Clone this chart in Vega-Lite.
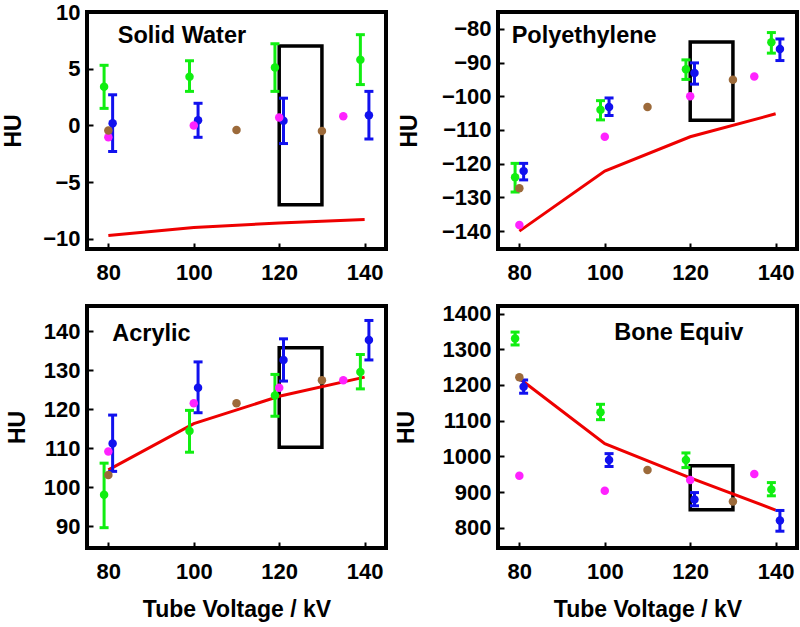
{
  "$schema": "https://vega.github.io/schema/vega-lite/v6.json",
  "background": "white",
  "autosize": {"type": "none"},
  "padding": {"left": 87, "top": 12, "right": 713, "bottom": 615},
  "datasets": {
    "pts": [
      {"panel": "sw", "series": "A", "kv": 79, "hu": 3.4, "lo": 1.5, "hi": 5.3},
      {"panel": "sw", "series": "A", "kv": 99, "hu": 4.3, "lo": 3.0, "hi": 5.7},
      {"panel": "sw", "series": "A", "kv": 119, "hu": 5.1, "lo": 3.0, "hi": 7.2},
      {"panel": "sw", "series": "A", "kv": 139, "hu": 5.8, "lo": 3.6, "hi": 8.0},
      {"panel": "sw", "series": "B", "kv": 81, "hu": 0.2, "lo": -2.3, "hi": 2.7},
      {"panel": "sw", "series": "B", "kv": 101, "hu": 0.45, "lo": -1.05, "hi": 1.95},
      {"panel": "sw", "series": "B", "kv": 121, "hu": 0.4, "lo": -1.6, "hi": 2.4},
      {"panel": "sw", "series": "B", "kv": 141, "hu": 0.9, "lo": -1.2, "hi": 3.0},
      {"panel": "sw", "series": "C", "kv": 80, "hu": -1.05},
      {"panel": "sw", "series": "C", "kv": 100, "hu": 0.0},
      {"panel": "sw", "series": "C", "kv": 120, "hu": 0.7},
      {"panel": "sw", "series": "C", "kv": 135, "hu": 0.8},
      {"panel": "sw", "series": "D", "kv": 80, "hu": -0.45},
      {"panel": "sw", "series": "D", "kv": 110, "hu": -0.4},
      {"panel": "sw", "series": "D", "kv": 130, "hu": -0.5},

      {"panel": "pe", "series": "A", "kv": 79, "hu": -124, "lo": -128.4, "hi": -119.9},
      {"panel": "pe", "series": "A", "kv": 99, "hu": -104, "lo": -107, "hi": -101.3},
      {"panel": "pe", "series": "A", "kv": 119, "hu": -92, "lo": -95, "hi": -89.2},
      {"panel": "pe", "series": "A", "kv": 139, "hu": -84, "lo": -87.2, "hi": -81.1},
      {"panel": "pe", "series": "B", "kv": 81, "hu": -122.2, "lo": -124.8, "hi": -119.9},
      {"panel": "pe", "series": "B", "kv": 101, "hu": -103.2, "lo": -105.7, "hi": -100.5},
      {"panel": "pe", "series": "B", "kv": 121, "hu": -93.1, "lo": -96.4, "hi": -90.1},
      {"panel": "pe", "series": "B", "kv": 141, "hu": -86, "lo": -89.4, "hi": -83},
      {"panel": "pe", "series": "C", "kv": 80, "hu": -138.2},
      {"panel": "pe", "series": "C", "kv": 100, "hu": -112},
      {"panel": "pe", "series": "C", "kv": 120, "hu": -100},
      {"panel": "pe", "series": "C", "kv": 135, "hu": -94.1},
      {"panel": "pe", "series": "D", "kv": 80, "hu": -127.3},
      {"panel": "pe", "series": "D", "kv": 110, "hu": -103.2},
      {"panel": "pe", "series": "D", "kv": 130, "hu": -95.1},

      {"panel": "ac", "series": "A", "kv": 79, "hu": 98.1, "lo": 89.7, "hi": 106.2},
      {"panel": "ac", "series": "A", "kv": 99, "hu": 114.4, "lo": 109, "hi": 119.7},
      {"panel": "ac", "series": "A", "kv": 119, "hu": 123.5, "lo": 118.2, "hi": 128.9},
      {"panel": "ac", "series": "A", "kv": 139, "hu": 129.5, "lo": 125.2, "hi": 134},
      {"panel": "ac", "series": "B", "kv": 81, "hu": 111.2, "lo": 104.1, "hi": 118.5},
      {"panel": "ac", "series": "B", "kv": 101, "hu": 125.5, "lo": 119.1, "hi": 132.1},
      {"panel": "ac", "series": "B", "kv": 121, "hu": 132.6, "lo": 127.2, "hi": 138},
      {"panel": "ac", "series": "B", "kv": 141, "hu": 137.7, "lo": 132.6, "hi": 142.7},
      {"panel": "ac", "series": "C", "kv": 80, "hu": 109.2},
      {"panel": "ac", "series": "C", "kv": 100, "hu": 121.5},
      {"panel": "ac", "series": "C", "kv": 120, "hu": 125.5},
      {"panel": "ac", "series": "C", "kv": 135, "hu": 127.4},
      {"panel": "ac", "series": "D", "kv": 80, "hu": 103.2},
      {"panel": "ac", "series": "D", "kv": 110, "hu": 121.5},
      {"panel": "ac", "series": "D", "kv": 130, "hu": 127.4},

      {"panel": "be", "series": "A", "kv": 79, "hu": 1330, "lo": 1312, "hi": 1348},
      {"panel": "be", "series": "A", "kv": 99, "hu": 1124, "lo": 1103, "hi": 1146},
      {"panel": "be", "series": "A", "kv": 119, "hu": 990, "lo": 969, "hi": 1010},
      {"panel": "be", "series": "A", "kv": 139, "hu": 908, "lo": 890, "hi": 927},
      {"panel": "be", "series": "B", "kv": 81, "hu": 1195, "lo": 1177, "hi": 1214},
      {"panel": "be", "series": "B", "kv": 101, "hu": 990, "lo": 972, "hi": 1008},
      {"panel": "be", "series": "B", "kv": 121, "hu": 880, "lo": 862, "hi": 899},
      {"panel": "be", "series": "B", "kv": 141, "hu": 821, "lo": 791, "hi": 849},
      {"panel": "be", "series": "C", "kv": 80, "hu": 946},
      {"panel": "be", "series": "C", "kv": 100, "hu": 904},
      {"panel": "be", "series": "C", "kv": 120, "hu": 934},
      {"panel": "be", "series": "C", "kv": 135, "hu": 951},
      {"panel": "be", "series": "D", "kv": 80, "hu": 1222},
      {"panel": "be", "series": "D", "kv": 110, "hu": 962},
      {"panel": "be", "series": "D", "kv": 130, "hu": 874}
    ],
    "model": [
      {"panel": "sw", "kv": 80, "hu": -9.7},
      {"panel": "sw", "kv": 100, "hu": -9.0},
      {"panel": "sw", "kv": 120, "hu": -8.6},
      {"panel": "sw", "kv": 140, "hu": -8.3},
      {"panel": "pe", "kv": 80, "hu": -140},
      {"panel": "pe", "kv": 100, "hu": -122.2},
      {"panel": "pe", "kv": 120, "hu": -112},
      {"panel": "pe", "kv": 140, "hu": -105.2},
      {"panel": "ac", "kv": 80, "hu": 104.5},
      {"panel": "ac", "kv": 100, "hu": 116.3},
      {"panel": "ac", "kv": 120, "hu": 123.3},
      {"panel": "ac", "kv": 140, "hu": 128.2},
      {"panel": "be", "kv": 80, "hu": 1218},
      {"panel": "be", "kv": 100, "hu": 1036},
      {"panel": "be", "kv": 120, "hu": 940},
      {"panel": "be", "kv": 140, "hu": 850}
    ],
    "box": [
      {"panel": "sw", "x1": 120, "x2": 130, "y1": -7, "y2": 7},
      {"panel": "pe", "x1": 120, "x2": 130, "y1": -107.1, "y2": -83.9},
      {"panel": "ac", "x1": 120, "x2": 130, "y1": 110.3, "y2": 135.7},
      {"panel": "be", "x1": 120, "x2": 130, "y1": 851, "y2": 974}
    ],
    "labels": [
      {"panel": "sw", "name": "Solid Water", "kv": 82.2, "hu": 7.3},
      {"panel": "pe", "name": "Polyethylene", "kv": 78.2, "hu": -84.1},
      {"panel": "ac", "name": "Acrylic", "kv": 80.9, "hu": 137.4},
      {"panel": "be", "name": "Bone Equiv", "kv": 102.2, "hu": 1326.6}
    ]
  },
  "columns": 2,
  "spacing": {"row": 57, "column": 112},
  "bounds": "flush",
  "concat": [
    {
      "width": 299, "height": 237,
      "layer": [
        {"data": {"name": "box"}, "transform": [{"filter": "datum.panel == 'sw'"}],
         "mark": {"type": "rect", "fillOpacity": 0, "stroke": "black", "strokeWidth": 3.5},
         "encoding": {"x": {"field": "x1", "type": "quantitative", "scale": {"domain": [75, 145], "nice": false, "zero": false}, "axis": {"values": [80, 100, 120, 140], "title": null}}, "x2": {"field": "x2"},
                      "y": {"field": "y1", "type": "quantitative", "scale": {"domain": [-10.9, 10], "nice": false, "zero": false}, "axis": {"values": [-10, -5, 0, 5, 10], "title": "HU", "titlePadding": 17, "labelOverlap": false, "tickCount": 12}}, "y2": {"field": "y2"}}},
        {"data": {"name": "model"}, "transform": [{"filter": "datum.panel == 'sw'"}],
         "mark": {"type": "line", "color": "#ee0000", "strokeWidth": 3},
         "encoding": {"x": {"field": "kv", "type": "quantitative"}, "y": {"field": "hu", "type": "quantitative"}}},
        {"data": {"name": "pts"}, "transform": [{"filter": "datum.panel == 'sw' && isValid(datum.lo)"}],
         "mark": {"type": "rule", "strokeWidth": 3},
         "encoding": {"x": {"field": "kv", "type": "quantitative"}, "y": {"field": "lo", "type": "quantitative"}, "y2": {"field": "hi"}, "color": {"field": "series", "type": "nominal", "legend": null}}},
        {"data": {"name": "pts"}, "transform": [{"filter": "datum.panel == 'sw' && isValid(datum.lo)"}],
         "mark": {"type": "tick", "orient": "horizontal", "size": 9, "thickness": 3, "opacity": 1},
         "encoding": {"x": {"field": "kv", "type": "quantitative"}, "y": {"field": "lo", "type": "quantitative"}, "color": {"field": "series", "type": "nominal", "legend": null}}},
        {"data": {"name": "pts"}, "transform": [{"filter": "datum.panel == 'sw' && isValid(datum.lo)"}],
         "mark": {"type": "tick", "orient": "horizontal", "size": 9, "thickness": 3, "opacity": 1},
         "encoding": {"x": {"field": "kv", "type": "quantitative"}, "y": {"field": "hi", "type": "quantitative"}, "color": {"field": "series", "type": "nominal", "legend": null}}},
        {"data": {"name": "pts"}, "transform": [{"filter": "datum.panel == 'sw'"}],
         "mark": {"type": "circle", "size": 72, "opacity": 1},
         "encoding": {"x": {"field": "kv", "type": "quantitative"}, "y": {"field": "hu", "type": "quantitative"}, "color": {"field": "series", "type": "nominal", "legend": null}}},
        {"data": {"name": "labels"}, "transform": [{"filter": "datum.panel == 'sw'"}],
         "mark": {"type": "text", "align": "left", "baseline": "alphabetic", "fontSize": 23.5, "fontWeight": "bold", "color": "black"},
         "encoding": {"x": {"field": "kv", "type": "quantitative"}, "y": {"field": "hu", "type": "quantitative"}, "text": {"field": "name"}}}
      ]
    },
    {
      "width": 299, "height": 237,
      "layer": [
        {"data": {"name": "box"}, "transform": [{"filter": "datum.panel == 'pe'"}],
         "mark": {"type": "rect", "fillOpacity": 0, "stroke": "black", "strokeWidth": 3.5},
         "encoding": {"x": {"field": "x1", "type": "quantitative", "scale": {"domain": [75, 145], "nice": false, "zero": false}, "axis": {"values": [80, 100, 120, 140], "title": null}}, "x2": {"field": "x2"},
                      "y": {"field": "y1", "type": "quantitative", "scale": {"domain": [-145.3, -75], "nice": false, "zero": false}, "axis": {"values": [-140, -130, -120, -110, -100, -90, -80], "title": "HU", "titlePadding": 20, "labelOverlap": false, "tickCount": 12}}, "y2": {"field": "y2"}}},
        {"data": {"name": "model"}, "transform": [{"filter": "datum.panel == 'pe'"}],
         "mark": {"type": "line", "color": "#ee0000", "strokeWidth": 3},
         "encoding": {"x": {"field": "kv", "type": "quantitative"}, "y": {"field": "hu", "type": "quantitative"}}},
        {"data": {"name": "pts"}, "transform": [{"filter": "datum.panel == 'pe' && isValid(datum.lo)"}],
         "mark": {"type": "rule", "strokeWidth": 3},
         "encoding": {"x": {"field": "kv", "type": "quantitative"}, "y": {"field": "lo", "type": "quantitative"}, "y2": {"field": "hi"}, "color": {"field": "series", "type": "nominal", "legend": null}}},
        {"data": {"name": "pts"}, "transform": [{"filter": "datum.panel == 'pe' && isValid(datum.lo)"}],
         "mark": {"type": "tick", "orient": "horizontal", "size": 9, "thickness": 3, "opacity": 1},
         "encoding": {"x": {"field": "kv", "type": "quantitative"}, "y": {"field": "lo", "type": "quantitative"}, "color": {"field": "series", "type": "nominal", "legend": null}}},
        {"data": {"name": "pts"}, "transform": [{"filter": "datum.panel == 'pe' && isValid(datum.lo)"}],
         "mark": {"type": "tick", "orient": "horizontal", "size": 9, "thickness": 3, "opacity": 1},
         "encoding": {"x": {"field": "kv", "type": "quantitative"}, "y": {"field": "hi", "type": "quantitative"}, "color": {"field": "series", "type": "nominal", "legend": null}}},
        {"data": {"name": "pts"}, "transform": [{"filter": "datum.panel == 'pe'"}],
         "mark": {"type": "circle", "size": 72, "opacity": 1},
         "encoding": {"x": {"field": "kv", "type": "quantitative"}, "y": {"field": "hu", "type": "quantitative"}, "color": {"field": "series", "type": "nominal", "legend": null}}},
        {"data": {"name": "labels"}, "transform": [{"filter": "datum.panel == 'pe'"}],
         "mark": {"type": "text", "align": "left", "baseline": "alphabetic", "fontSize": 23.5, "fontWeight": "bold", "color": "black"},
         "encoding": {"x": {"field": "kv", "type": "quantitative"}, "y": {"field": "hu", "type": "quantitative"}, "text": {"field": "name"}}}
      ]
    },
    {
      "width": 299, "height": 242,
      "layer": [
        {"data": {"name": "box"}, "transform": [{"filter": "datum.panel == 'ac'"}],
         "mark": {"type": "rect", "fillOpacity": 0, "stroke": "black", "strokeWidth": 3.5},
         "encoding": {"x": {"field": "x1", "type": "quantitative", "scale": {"domain": [75, 145], "nice": false, "zero": false}, "axis": {"values": [80, 100, 120, 140], "title": "Tube Voltage / kV"}}, "x2": {"field": "x2"},
                      "y": {"field": "y1", "type": "quantitative", "scale": {"domain": [84.5, 146.4], "nice": false, "zero": false}, "axis": {"values": [90, 100, 110, 120, 130, 140], "title": "HU", "titlePadding": 14, "labelOverlap": false, "tickCount": 12}}, "y2": {"field": "y2"}}},
        {"data": {"name": "model"}, "transform": [{"filter": "datum.panel == 'ac'"}],
         "mark": {"type": "line", "color": "#ee0000", "strokeWidth": 3},
         "encoding": {"x": {"field": "kv", "type": "quantitative"}, "y": {"field": "hu", "type": "quantitative"}}},
        {"data": {"name": "pts"}, "transform": [{"filter": "datum.panel == 'ac' && isValid(datum.lo)"}],
         "mark": {"type": "rule", "strokeWidth": 3},
         "encoding": {"x": {"field": "kv", "type": "quantitative"}, "y": {"field": "lo", "type": "quantitative"}, "y2": {"field": "hi"}, "color": {"field": "series", "type": "nominal", "legend": null}}},
        {"data": {"name": "pts"}, "transform": [{"filter": "datum.panel == 'ac' && isValid(datum.lo)"}],
         "mark": {"type": "tick", "orient": "horizontal", "size": 9, "thickness": 3, "opacity": 1},
         "encoding": {"x": {"field": "kv", "type": "quantitative"}, "y": {"field": "lo", "type": "quantitative"}, "color": {"field": "series", "type": "nominal", "legend": null}}},
        {"data": {"name": "pts"}, "transform": [{"filter": "datum.panel == 'ac' && isValid(datum.lo)"}],
         "mark": {"type": "tick", "orient": "horizontal", "size": 9, "thickness": 3, "opacity": 1},
         "encoding": {"x": {"field": "kv", "type": "quantitative"}, "y": {"field": "hi", "type": "quantitative"}, "color": {"field": "series", "type": "nominal", "legend": null}}},
        {"data": {"name": "pts"}, "transform": [{"filter": "datum.panel == 'ac'"}],
         "mark": {"type": "circle", "size": 72, "opacity": 1},
         "encoding": {"x": {"field": "kv", "type": "quantitative"}, "y": {"field": "hu", "type": "quantitative"}, "color": {"field": "series", "type": "nominal", "legend": null}}},
        {"data": {"name": "labels"}, "transform": [{"filter": "datum.panel == 'ac'"}],
         "mark": {"type": "text", "align": "left", "baseline": "alphabetic", "fontSize": 23.5, "fontWeight": "bold", "color": "black"},
         "encoding": {"x": {"field": "kv", "type": "quantitative"}, "y": {"field": "hu", "type": "quantitative"}, "text": {"field": "name"}}}
      ]
    },
    {
      "width": 299, "height": 242,
      "layer": [
        {"data": {"name": "box"}, "transform": [{"filter": "datum.panel == 'be'"}],
         "mark": {"type": "rect", "fillOpacity": 0, "stroke": "black", "strokeWidth": 3.5},
         "encoding": {"x": {"field": "x1", "type": "quantitative", "scale": {"domain": [75, 145], "nice": false, "zero": false}, "axis": {"values": [80, 100, 120, 140], "title": "Tube Voltage / kV"}}, "x2": {"field": "x2"},
                      "y": {"field": "y1", "type": "quantitative", "scale": {"domain": [744, 1421], "nice": false, "zero": false}, "axis": {"values": [800, 900, 1000, 1100, 1200, 1300, 1400], "title": "HU", "titlePadding": 24, "labelOverlap": false, "tickCount": 12}}, "y2": {"field": "y2"}}},
        {"data": {"name": "model"}, "transform": [{"filter": "datum.panel == 'be'"}],
         "mark": {"type": "line", "color": "#ee0000", "strokeWidth": 3},
         "encoding": {"x": {"field": "kv", "type": "quantitative"}, "y": {"field": "hu", "type": "quantitative"}}},
        {"data": {"name": "pts"}, "transform": [{"filter": "datum.panel == 'be' && isValid(datum.lo)"}],
         "mark": {"type": "rule", "strokeWidth": 3},
         "encoding": {"x": {"field": "kv", "type": "quantitative"}, "y": {"field": "lo", "type": "quantitative"}, "y2": {"field": "hi"}, "color": {"field": "series", "type": "nominal", "legend": null}}},
        {"data": {"name": "pts"}, "transform": [{"filter": "datum.panel == 'be' && isValid(datum.lo)"}],
         "mark": {"type": "tick", "orient": "horizontal", "size": 9, "thickness": 3, "opacity": 1},
         "encoding": {"x": {"field": "kv", "type": "quantitative"}, "y": {"field": "lo", "type": "quantitative"}, "color": {"field": "series", "type": "nominal", "legend": null}}},
        {"data": {"name": "pts"}, "transform": [{"filter": "datum.panel == 'be' && isValid(datum.lo)"}],
         "mark": {"type": "tick", "orient": "horizontal", "size": 9, "thickness": 3, "opacity": 1},
         "encoding": {"x": {"field": "kv", "type": "quantitative"}, "y": {"field": "hi", "type": "quantitative"}, "color": {"field": "series", "type": "nominal", "legend": null}}},
        {"data": {"name": "pts"}, "transform": [{"filter": "datum.panel == 'be'"}],
         "mark": {"type": "circle", "size": 72, "opacity": 1},
         "encoding": {"x": {"field": "kv", "type": "quantitative"}, "y": {"field": "hu", "type": "quantitative"}, "color": {"field": "series", "type": "nominal", "legend": null}}},
        {"data": {"name": "labels"}, "transform": [{"filter": "datum.panel == 'be'"}],
         "mark": {"type": "text", "align": "left", "baseline": "alphabetic", "fontSize": 23.5, "fontWeight": "bold", "color": "black"},
         "encoding": {"x": {"field": "kv", "type": "quantitative"}, "y": {"field": "hu", "type": "quantitative"}, "text": {"field": "name"}}}
      ]
    }
  ],
  "resolve": {"scale": {"color": "shared"}},
  "config": {
    "font": "Liberation Sans",
    "view": {"stroke": "black", "strokeWidth": 4},
    "range": {"category": ["#11ee11", "#1111ee", "#ff22ff", "#9c6a3a"]},
    "axis": {
      "grid": false, "domain": false, "format": "d", "labelOverlap": false,
      "labelFont": "Liberation Sans", "labelFontSize": 22, "labelFontWeight": "bold", "labelColor": "black",
      "titleFont": "Liberation Sans", "titleFontSize": 23, "titleFontWeight": "bold", "titleColor": "black",
      "tickColor": "black", "tickSize": -6, "tickWidth": 2
    },
    "axisX": {"labelPadding": 19, "titlePadding": 16},
    "axisY": {"labelPadding": 13}
  }
}
